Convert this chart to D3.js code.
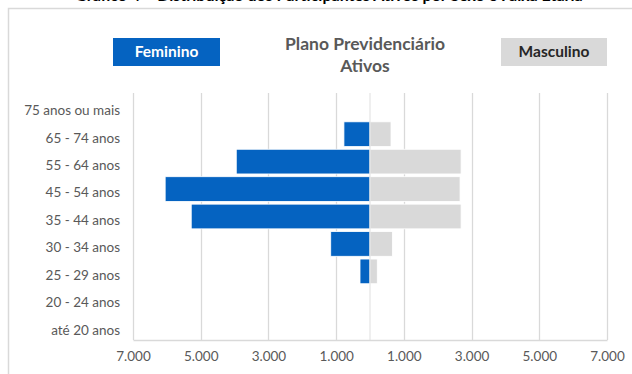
<!DOCTYPE html>
<html>
<head>
<meta charset="utf-8">
<script src="https://cdn.jsdelivr.net/npm/d3@7"></script>
<style>
  html, body { margin: 0; padding: 0; background: #fff; }
  svg { display: block; font-family: Lato, "Open Sans", sans-serif; }
</style>
</head>
<body>
<svg id="chart" width="632" height="374"></svg>
<script>
// ---- data ----
const categories = ["75 anos ou mais", "65 - 74 anos", "55 - 64 anos", "45 - 54 anos", "35 - 44 anos", "30 - 34 anos", "25 - 29 anos", "20 - 24 anos", "até 20 anos"];
const feminino = [0, 770, 3950, 6050, 5280, 1160, 295, 0, 0];
const masculino = [0, 620, 2690, 2660, 2690, 660, 215, 0, 0];
const tickValues = [-7000, -5000, -3000, -1000, 1000, 3000, 5000, 7000];
const seriesNames = ["Feminino", "Masculino"];
const chartTitle = ["Plano Previdenciário", "Ativos"];
const topTitle = "Gráfico 4 – Distribuição dos Participantes Ativos por Sexo e Faixa Etária";

const svg = d3.select("#chart");
const W = 632, H = 374;
const blue = "#0563C1", gray = "#D9D9D9", grid = "#D9D9D9", textGray = "#595959";

svg.append("rect").attr("width", W).attr("height", H).attr("fill", "#fff");

// page title above the chart (cut off by the top edge, as in the source)
svg.append("text").attr("x", 329).attr("y", 0.5).attr("text-anchor", "middle")
  .attr("font-size", 16).attr("font-weight", "bold").attr("fill", "#000").text(topTitle);

// chart frame (extends beyond the window)
svg.append("rect").attr("x", 8.5).attr("y", 8.5).attr("width", 700).attr("height", 420)
  .attr("fill", "none").attr("stroke", grid).attr("stroke-width", 1.5);

const x = d3.scaleLinear().domain([-7000, 7000]).range([133, 607]);
const y = d3.scaleBand().domain(categories).range([93, 340]).paddingInner(0.1).paddingOuter(0.05);

const loc = d3.formatLocale({decimal: ",", thousands: ".", grouping: [3], currency: ["R$", ""]});
const fmt = loc.format(",.0f");

// gridlines
svg.append("g").selectAll("line").data(tickValues).join("line")
  .attr("x1", d => Math.round(x(d)) + 0.5).attr("x2", d => Math.round(x(d)) + 0.5)
  .attr("y1", 93).attr("y2", 340).attr("stroke", grid).attr("stroke-width", 1.3);

// bars
const rows = categories.map((c, i) => ({c, f: feminino[i], m: masculino[i]}));
svg.append("g").selectAll("rect").data(rows.filter(d => d.f > 0)).join("rect")
  .attr("x", d => x(-d.f)).attr("width", d => x(0) - x(-d.f))
  .attr("y", d => y(d.c)).attr("height", y.bandwidth())
  .attr("fill", blue).attr("stroke", "#fff").attr("stroke-width", 0.8);
svg.append("g").selectAll("rect").data(rows.filter(d => d.m > 0)).join("rect")
  .attr("x", x(0)).attr("width", d => x(d.m) - x(0))
  .attr("y", d => y(d.c)).attr("height", y.bandwidth())
  .attr("fill", gray).attr("stroke", "#fff").attr("stroke-width", 0.8);

// zero axis line
svg.append("line").attr("x1", x(0)).attr("x2", x(0)).attr("y1", 93).attr("y2", 340)
  .attr("stroke", grid).attr("stroke-width", 1).attr("opacity", 0.8);

// bottom axis
const xAxis = d3.axisBottom(x).tickValues(tickValues).tickSize(0).tickPadding(11)
  .tickFormat(d => fmt(Math.abs(d)));
const gx = svg.append("g").attr("transform", "translate(0,340)").call(xAxis);
gx.select(".domain").attr("stroke", grid).attr("stroke-width", 1.3);
gx.selectAll("text").attr("font-size", 13.5).attr("fill", textGray).attr("font-family", "Lato, sans-serif");

// left axis labels
const yAxis = d3.axisLeft(y).tickSize(0).tickPadding(13);
const gy = svg.append("g").attr("transform", "translate(133,0)").call(yAxis);
gy.select(".domain").remove();
gy.selectAll("text").attr("font-size", 13.5).attr("fill", textGray).attr("font-family", "Lato, sans-serif")
  .attr("dy", "0.62em");

// legend boxes
const legend = [
  {name: seriesNames[0], x0: 113, x1: 220, fill: blue, color: "#fff"},
  {name: seriesNames[1], x0: 501, x1: 607, fill: gray, color: "#262626"}
];
const lg = svg.append("g").selectAll("g").data(legend).join("g");
lg.append("rect").attr("x", d => d.x0).attr("y", 38).attr("width", d => d.x1 - d.x0).attr("height", 28)
  .attr("fill", d => d.fill);
lg.append("text").attr("x", d => (d.x0 + d.x1) / 2).attr("y", 52).attr("dy", "0.35em")
  .attr("text-anchor", "middle").attr("font-size", 15.5).attr("font-weight", "bold")
  .attr("fill", d => d.color).text(d => d.name);

// chart title
svg.append("g").selectAll("text").data(chartTitle).join("text")
  .attr("x", 365).attr("y", (d, i) => 44 + i * 22).attr("dy", "0.35em")
  .attr("text-anchor", "middle").attr("font-size", 17.5).attr("font-weight", "bold")
  .attr("fill", textGray).text(d => d);
</script>
</body>
</html>
